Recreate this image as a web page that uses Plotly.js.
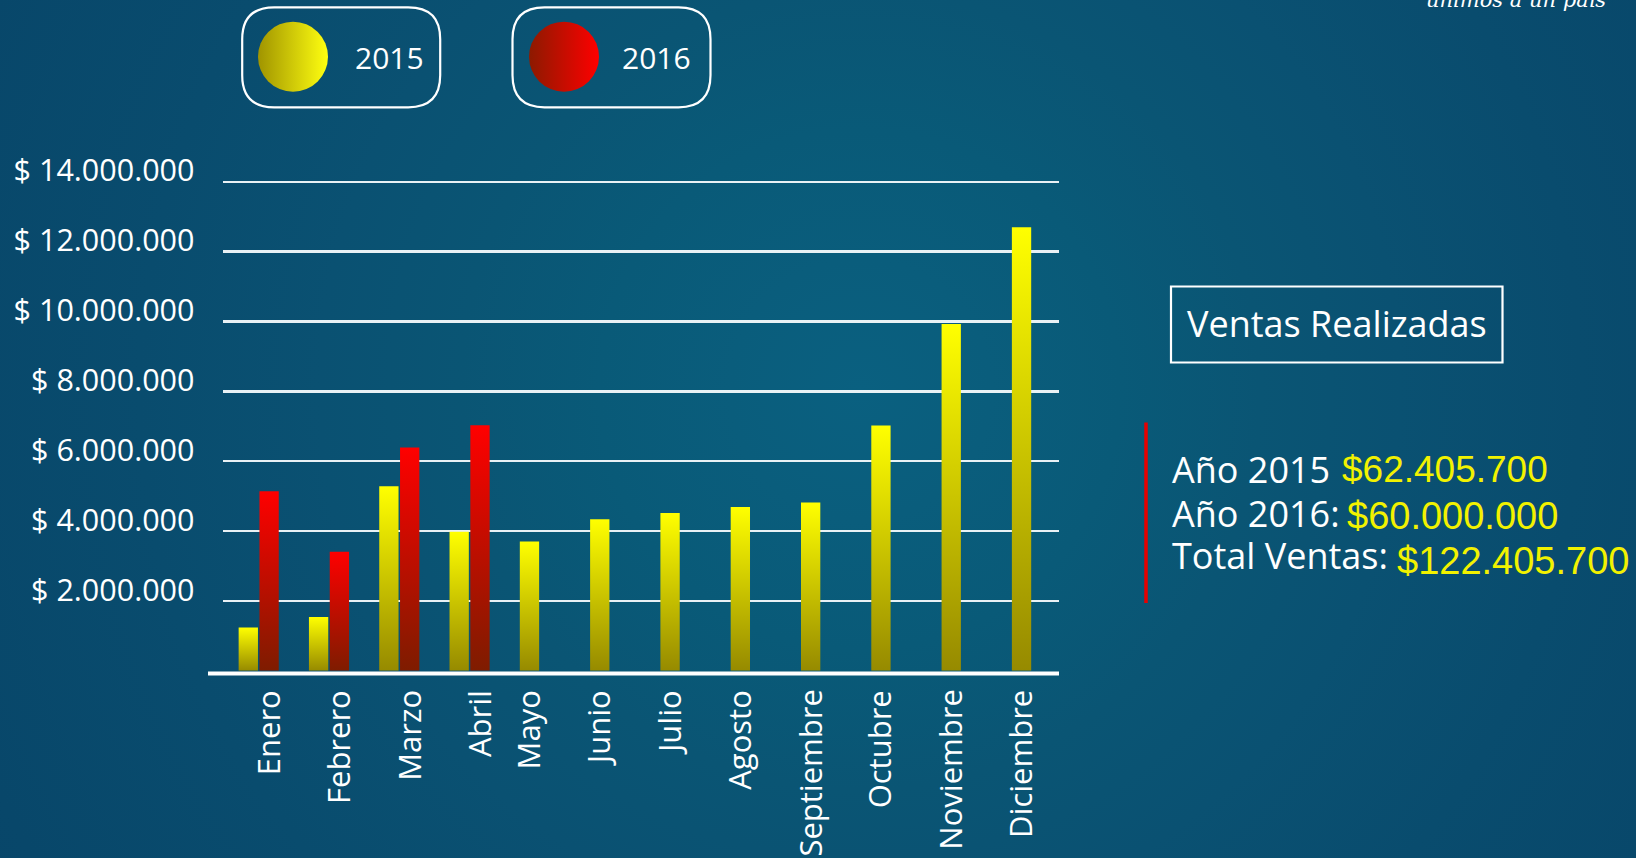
<!DOCTYPE html>
<html>
<head>
<meta charset="utf-8">
<script src="https://cdn.plot.ly/plotly-3.0.1.min.js"></script>
<style>
  html, body { margin:0; padding:0; width:1636px; height:858px; overflow:hidden; }
  body {
    background: radial-gradient(circle at 860px 390px,
      #0a6080 0px, #0a5d7c 130px, #095a78 260px, #0a5574 400px,
      #0a5172 540px, #094c6e 720px, #08476a 950px, #074368 1200px);
  }
  #chart { width:1636px; height:858px; }
</style>
</head>
<body>
<div id="chart"></div>
<script>
// ---- data ----
const months = ["Enero","Febrero","Marzo","Abril","Mayo","Junio","Julio","Agosto","Septiembre","Octubre","Noviembre","Diciembre"];
const sales2015 = [1240000, 1540000, 5280000, 3980000, 3700000, 4340000, 4520000, 4690000, 4820000, 7020000, 9930000, 12700000];
const sales2016 = [5140000, 3410000, 6390000, 7030000, null, null, null, null, null, null, null, null];
const yTickVals = [2000000, 4000000, 6000000, 8000000, 10000000, 12000000, 14000000];
const yTickText = ["$ 2.000.000","$ 4.000.000","$ 6.000.000","$ 8.000.000","$ 10.000.000","$ 12.000.000","$ 14.000.000"];
const seriesNames = ["2015", "2016"];
const summaryLabels = ["Año 2015", "Año 2016:", "Total Ventas:"];
const summaryValues = ["$62.405.700", "$60.000.000", "$122.405.700"];
const panelTitle = "Ventas Realizadas";
const watermark = "unimos a un país";

// ---- page pixel -> paper helpers (margins are zero) ----
const W = 1636, H = 858;
const px = v => v / W;
const py = v => 1 - v / H;

const WHITE = "#ffffff";
const FONT = "Open Sans";

const traces = [
  { type: "bar", name: seriesNames[0], x: months, y: sales2015,
    marker: { color: "#d8d000", line: { width: 0 } }, hoverinfo: "skip" },
  { type: "bar", name: seriesNames[1], x: months, y: sales2016,
    marker: { color: "#c01000", line: { width: 0 } }, hoverinfo: "skip" }
];

// rounded rectangle path centred at anchor (pixel units)
function roundRect(hw, hh, r) {
  return `M ${-hw + r},${-hh} L ${hw - r},${-hh} Q ${hw},${-hh} ${hw},${-hh + r} ` +
         `L ${hw},${hh - r} Q ${hw},${hh} ${hw - r},${hh} L ${-hw + r},${hh} ` +
         `Q ${-hw},${hh} ${-hw},${hh - r} L ${-hw},${-hh + r} Q ${-hw},${-hh} ${-hw + r},${-hh} Z`;
}

const shapes = [
  // baseline
  { type: "line", xref: "paper", yref: "paper", x0: px(208), x1: px(1059), y0: py(673.5), y1: py(673.5),
    line: { color: WHITE, width: 4 }, layer: "above" },
  // legend boxes
  { type: "path", xref: "paper", yref: "paper", xsizemode: "pixel", ysizemode: "pixel",
    xanchor: px(341.2), yanchor: py(57.3), path: roundRect(99, 50, 32),
    line: { color: WHITE, width: 2.2 }, fillcolor: "rgba(0,0,0,0)" },
  { type: "path", xref: "paper", yref: "paper", xsizemode: "pixel", ysizemode: "pixel",
    xanchor: px(611.5), yanchor: py(57.3), path: roundRect(99, 50, 32),
    line: { color: WHITE, width: 2.2 }, fillcolor: "rgba(0,0,0,0)" },
  // legend circles (index 3 and 4)
  { type: "circle", xref: "paper", yref: "paper", xsizemode: "pixel", ysizemode: "pixel",
    xanchor: px(293), yanchor: py(56.7), x0: -35, x1: 35, y0: -35, y1: 35,
    line: { width: 0 }, fillcolor: "#d8d000" },
  { type: "circle", xref: "paper", yref: "paper", xsizemode: "pixel", ysizemode: "pixel",
    xanchor: px(564), yanchor: py(56.7), x0: -35, x1: 35, y0: -35, y1: 35,
    line: { width: 0 }, fillcolor: "#c01000" },
  // Ventas Realizadas box
  { type: "rect", xref: "paper", yref: "paper", x0: px(1171), x1: px(1502.5), y0: py(286.5), y1: py(362.5),
    line: { color: WHITE, width: 2.2 }, fillcolor: "rgba(0,0,0,0)" },
  // red vertical bar
  { type: "line", xref: "paper", yref: "paper", x0: px(1146), x1: px(1146), y0: py(422.5), y1: py(603),
    line: { color: "#e80000", width: 3.5 } }
];

const annotations = [];
// x category labels (rotated)
months.forEach((m, i) => {
  annotations.push({
    x: m, xref: "x", y: py(688), yref: "paper", text: m, showarrow: false,
    textangle: -90, xanchor: "center", yanchor: "top",
    xshift: sales2016[i] != null ? 9 : -12,
    font: { family: FONT, size: 31, color: WHITE }
  });
});
// legend labels
annotations.push({ x: px(353), y: py(57), xref: "paper", yref: "paper", text: seriesNames[0],
  showarrow: false, xanchor: "left", yanchor: "middle", font: { family: FONT, size: 30, color: WHITE } });
annotations.push({ x: px(620), y: py(57), xref: "paper", yref: "paper", text: seriesNames[1],
  showarrow: false, xanchor: "left", yanchor: "middle", font: { family: FONT, size: 30, color: WHITE } });
// panel title
annotations.push({ x: px(1337), y: py(323), xref: "paper", yref: "paper", text: panelTitle,
  showarrow: false, xanchor: "center", yanchor: "middle", font: { family: FONT, size: 36, color: WHITE } });
// summary lines
const whiteY = [469, 513, 555];
const yellowX = [1340, 1345, 1395];
const yellowY = [469, 516, 561];
const yellowSize = [37, 38, 38];
summaryLabels.forEach((t, i) => {
  annotations.push({ x: px(1170), y: py(whiteY[i]), xref: "paper", yref: "paper", text: t,
    showarrow: false, xanchor: "left", yanchor: "middle", font: { family: FONT, size: 36, color: WHITE } });
  annotations.push({ x: px(yellowX[i]), y: py(yellowY[i]), xref: "paper", yref: "paper", text: summaryValues[i],
    showarrow: false, xanchor: "left", yanchor: "middle",
    font: { family: "Liberation Sans", size: yellowSize[i], color: "#f2f200" } });
});
// watermark (cut off at top, as in the original)
annotations.push({ x: px(1424), y: py(14), xref: "paper", yref: "paper", text: watermark,
  showarrow: false, xanchor: "left", yanchor: "bottom",
  font: { family: "DejaVu Serif", size: 21, color: WHITE, style: "italic" } });

const layout = {
  width: W, height: H,
  margin: { l: 0, r: 0, t: 0, b: 0, pad: 0 },
  paper_bgcolor: "rgba(0,0,0,0)",
  plot_bgcolor: "rgba(0,0,0,0)",
  showlegend: false,
  barmode: "group",
  bargap: 0.408,
  bargroupgap: 0.072,
  xaxis: {
    type: "category", domain: [px(222.5), px(1059)], range: [-0.515, 11.385],
    showticklabels: false, showgrid: false, zeroline: false, showline: false, ticks: "", fixedrange: true
  },
  yaxis: {
    domain: [py(670.8), py(174.8)], range: [0, 14200000],
    tickmode: "array", tickvals: yTickVals, ticktext: yTickText,
    showgrid: true, gridcolor: "rgba(245,250,252,0.95)", gridwidth: 2.4,
    zeroline: false, showline: false, ticks: "",
    ticklabelstandoff: 27, ticklabelshift: -11,
    tickfont: { family: FONT, size: 30.5, color: WHITE }, fixedrange: true
  },
  shapes: shapes,
  annotations: annotations
};

Plotly.newPlot("chart", traces, layout, { staticPlot: true, displayModeBar: false }).then(gd => {
  const svgNS = "http://www.w3.org/2000/svg";
  const svg = gd.querySelector("svg.main-svg");
  let defs = svg.querySelector("defs");
  if (!defs) { defs = document.createElementNS(svgNS, "defs"); svg.insertBefore(defs, svg.firstChild); }
  function grad(id, x2, y2, c0, c1) {
    const g = document.createElementNS(svgNS, "linearGradient");
    g.setAttribute("id", id);
    g.setAttribute("x1", "0"); g.setAttribute("y1", "0");
    g.setAttribute("x2", x2); g.setAttribute("y2", y2);
    const s0 = document.createElementNS(svgNS, "stop");
    s0.setAttribute("offset", "0"); s0.setAttribute("stop-color", c0);
    const s1 = document.createElementNS(svgNS, "stop");
    s1.setAttribute("offset", "1"); s1.setAttribute("stop-color", c1);
    g.appendChild(s0); g.appendChild(s1); defs.appendChild(g);
  }
  grad("gBar15", "0", "1", "#ffff00", "#968a00");
  grad("gBar16", "0", "1", "#ff0000", "#7e1c00");
  grad("gDot15", "1", "0", "#a09400", "#ffff10");
  grad("gDot16", "1", "0", "#8c1a00", "#ff0000");
  const barTraces = gd.querySelectorAll(".barlayer .trace");
  barTraces.forEach((t, i) => {
    t.querySelectorAll("path").forEach(p => { p.style.fill = i === 0 ? "url(#gBar15)" : "url(#gBar16)"; });
  });
  gd.querySelectorAll(".shapelayer path").forEach(p => {
    const idx = p.getAttribute("data-index");
    if (idx === "3") p.style.fill = "url(#gDot15)";
    if (idx === "4") p.style.fill = "url(#gDot16)";
  });
});
</script>
</body>
</html>
